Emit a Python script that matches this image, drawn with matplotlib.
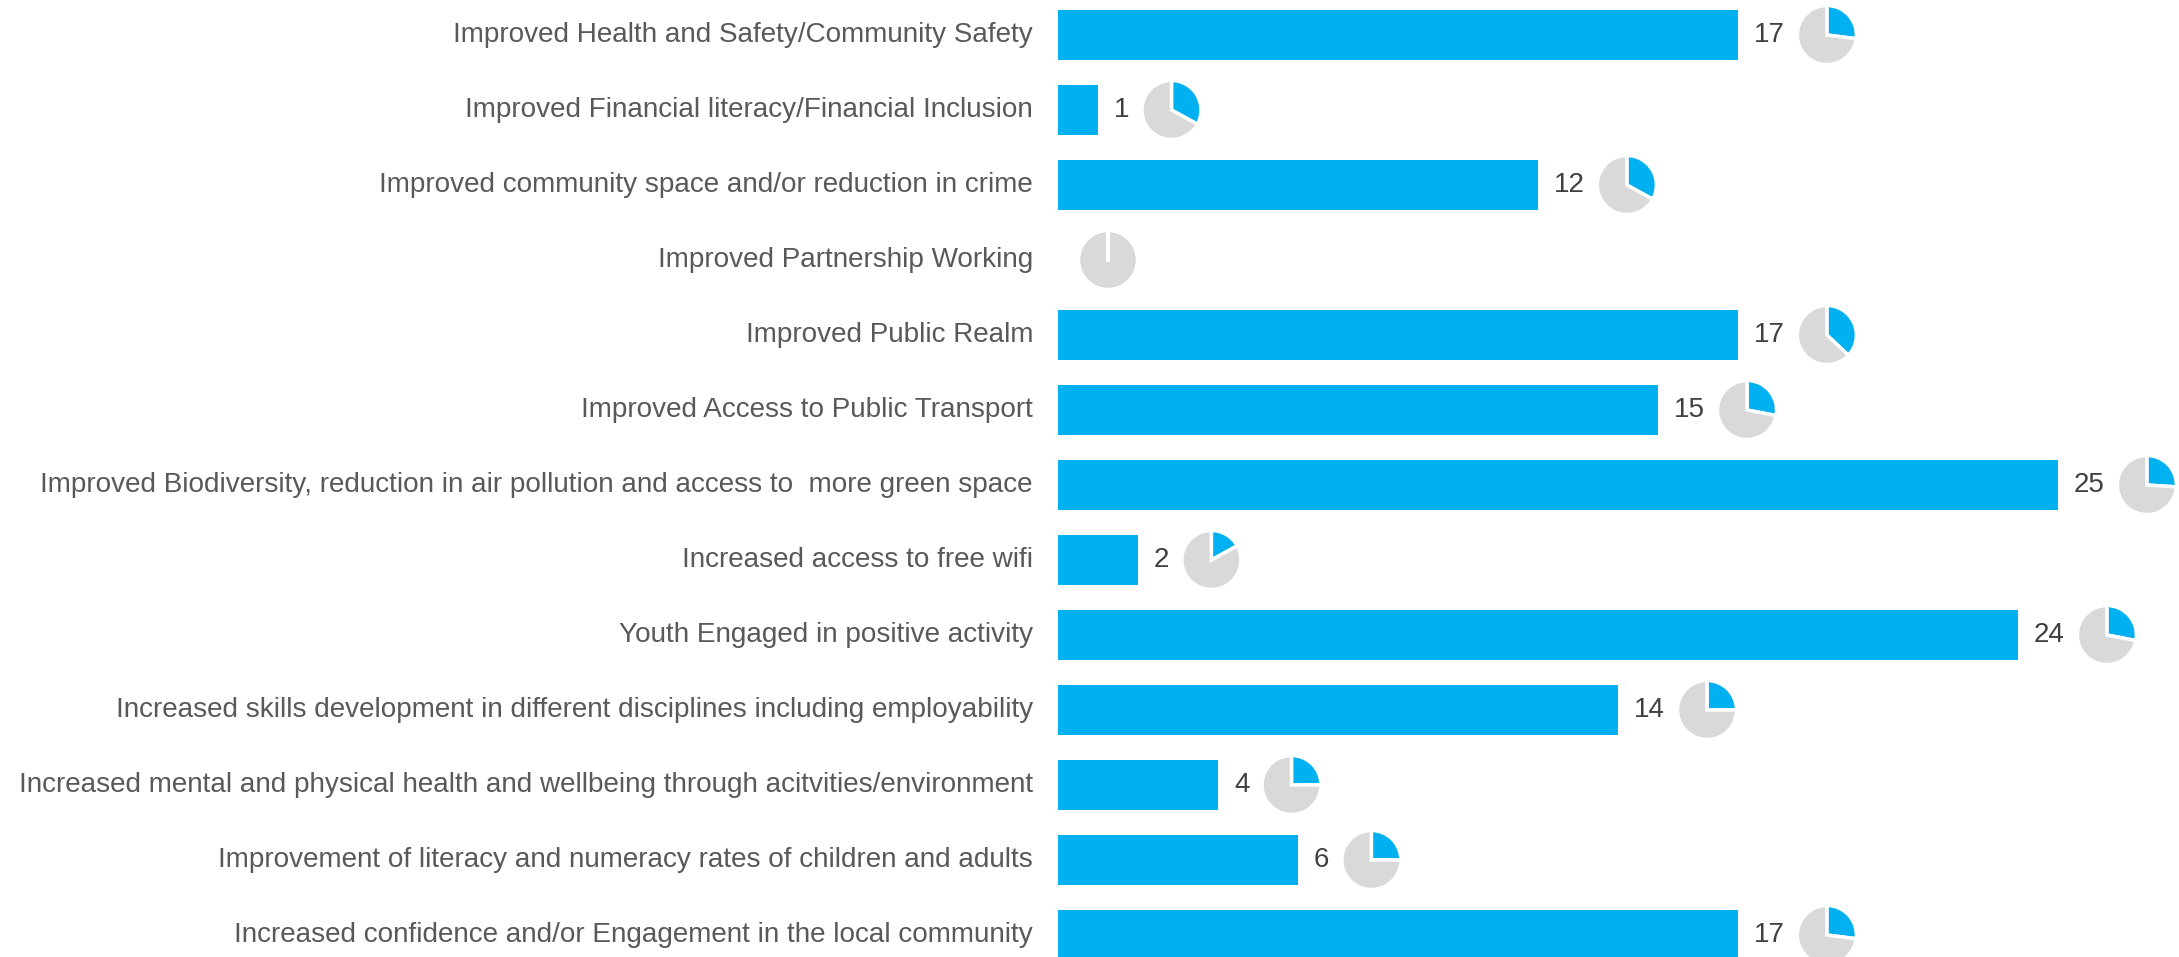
import matplotlib
matplotlib.use("Agg")
import matplotlib.pyplot as plt

plt.rcParams['font.family'] = ['Liberation Sans', 'DejaVu Sans']

CATEGORIES = [
    "Improved Health and Safety/Community Safety",
    "Improved Financial literacy/Financial Inclusion",
    "Improved community space and/or reduction in crime",
    "Improved Partnership Working",
    "Improved Public Realm",
    "Improved Access to Public Transport",
    "Improved Biodiversity, reduction in air pollution and access to  more green space",
    "Increased access to free wifi",
    "Youth Engaged in positive activity",
    "Increased skills development in different disciplines including employability",
    "Increased mental and physical health and wellbeing through acitvities/environment",
    "Improvement of literacy and numeracy rates of children and adults",
    "Increased confidence and/or Engagement in the local community",
]
VALUES = [17, 1, 12, 0, 17, 15, 25, 2, 24, 14, 4, 6, 17]
# share shown in the small pie next to each bar
PIE_SHARE = [0.27, 0.33, 0.33, 0.0, 0.37, 0.28, 0.26, 0.17, 0.28, 0.25, 0.25, 0.25, 0.27]

BLUE = "#00B0F0"
GREY = "#D9D9D9"
LABEL_COLOR = "#595959"
VALUE_COLOR = "#404040"

W, H = 2179, 957
DPI = 100
PIE_R = 31          # px
GAP_BAR = 16        # px between bar end and value text
GAP_TEXT = 11       # px between value text and pie
GAP_EMPTY = 19      # px between axis and pie when there is no bar

fig = plt.figure(figsize=(W / DPI, H / DPI), dpi=DPI)
ax = fig.add_axes([1058 / W, 0, 1 - 1058 / W, 1])

ys = list(range(len(CATEGORIES)))
ax.barh(ys, VALUES, height=0.67, color=BLUE)
ax.set_xlim(0, (W - 1058) / 40)
ax.set_ylim(12 + 22 / 75, -35 / 75)
ax.axis("off")

# category labels to the left of the bars
for y, cat in zip(ys, CATEGORIES):
    ax.annotate(cat, xy=(0, y), xytext=(-25, 0), textcoords="offset pixels",
                ha="right", va="center", fontsize=20.1, color=LABEL_COLOR)

fig.canvas.draw()
renderer = fig.canvas.get_renderer()

for y, v, share in zip(ys, VALUES, PIE_SHARE):
    bx, by = ax.transData.transform((v, y))
    if v > 0:
        t = ax.annotate(str(v), xy=(v, y), xytext=(GAP_BAR, 0), textcoords="offset pixels",
                        ha="left", va="center", fontsize=20, color=VALUE_COLOR)
        ext = t.get_window_extent(renderer)
        cx = ext.x1 + GAP_TEXT + PIE_R
    else:
        cx = bx + GAP_EMPTY + PIE_R
    cy = by
    pax = fig.add_axes([(cx - PIE_R) / W, (cy - PIE_R) / H, 2 * PIE_R / W, 2 * PIE_R / H])
    pax.pie([share, 1 - share], colors=[BLUE, GREY], startangle=90, counterclock=False,
            wedgeprops=dict(edgecolor="white", linewidth=2.5))
    if share == 0:
        pax.plot([0, 0], [0, 1], color="white", linewidth=3)
    pax.set_xlim(-1.05, 1.05)
    pax.set_ylim(-1.05, 1.05)
    pax.set_aspect("equal")
    pax.axis("off")

fig.savefig("out.png", dpi=DPI)
